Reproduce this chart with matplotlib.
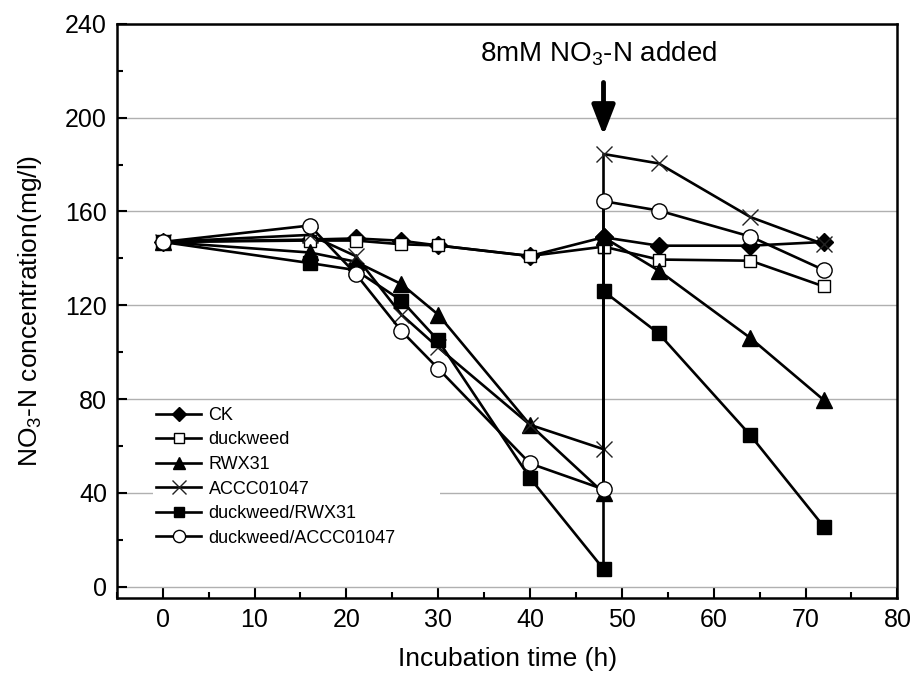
import matplotlib
matplotlib.use("Agg")
import matplotlib.pyplot as plt
from matplotlib.ticker import MultipleLocator

plt.rcParams["font.family"] = ["Liberation Sans", "DejaVu Sans"]
plt.rcParams["mathtext.fontset"] = "custom"
plt.rcParams["mathtext.rm"] = "Liberation Sans"
plt.rcParams["mathtext.default"] = "regular"

# ── data ─────────────────────────────────────────────────────────────────────
time_h = [0, 16, 21, 26, 30, 40, 48, 48, 54, 64, 72]

ck        = [147, 148, 148.5, 147.5, 145.5, 141, 149, 149, 145.4, 145.4, 147]
duckweed  = [147, 147.6, 147.6, 146, 145.5, 141, 145, 145, 139.5, 139, 128]
rwx31     = [147, 142.5, 138.6, 129, 116, 69, 40, 149, 134.8, 106, 79.5]
accc01047 = [147, 150, 141, 116, 102, 69, 58.6, 184.5, 180.5, 157.6, 146]
dw_rwx31  = [147, 138, 135, 122, 105, 46.3, 7.5, 126, 108, 64.5, 25.5]
dw_accc   = [147, 154, 133.5, 109, 93, 52.5, 41.5, 164.4, 160.4, 149.3, 135]

labels = ["CK", "duckweed", "RWX31", "ACCC01047", "duckweed/RWX31", "duckweed/ACCC01047"]
series = [ck, duckweed, rwx31, accc01047, dw_rwx31, dw_accc]

# ── plot ─────────────────────────────────────────────────────────────────────
fig = plt.figure(figsize=(9.12, 6.83), dpi=100)
ax = fig.add_axes([0.128, 0.124, 0.856, 0.841])

styles = [
    dict(marker="D", ms=9, mfc="black", mec="black"),
    dict(marker="s", ms=9, mfc="white", mec="black", mew=1.0),
    dict(marker="^", ms=11, mfc="black", mec="black"),
    dict(marker="x", ms=12, mfc="none", mec="#222222", mew=1.0),
    dict(marker="s", ms=9.5, mfc="black", mec="black"),
    dict(marker="o", ms=11, mfc="white", mec="black", mew=1.0),
]
for vals, lab, st in zip(series, labels, styles):
    ax.plot(time_h, vals, color="black", lw=1.9, label=lab, **st)

ax.set_xlim(-5, 80)
ax.set_ylim(-5, 240)
ax.xaxis.set_major_locator(MultipleLocator(10))
ax.xaxis.set_minor_locator(MultipleLocator(5))
ax.yaxis.set_major_locator(MultipleLocator(40))
ax.yaxis.set_minor_locator(MultipleLocator(20))
ax.tick_params(which="both", direction="in", top=False, right=False, width=1.5)
ax.tick_params(which="major", length=7, labelsize=18, pad=7)
ax.tick_params(which="minor", length=4)
for sp in ax.spines.values():
    sp.set_linewidth(1.8)

ax.grid(axis="y", color="#b0b0b0", lw=1.0)
ax.set_axisbelow(True)

ax.set_xlabel("Incubation time (h)", fontsize=19, labelpad=11)
ax.set_ylabel("NO$_3$-N concentration(mg/l)", fontsize=19, labelpad=15)

ax.annotate("", xy=(48, 192.5), xytext=(48, 215),
            arrowprops=dict(arrowstyle="-|>,head_length=0.9,head_width=0.35",
                            lw=3.5, color="black", mutation_scale=20,
                            shrinkA=0, shrinkB=0))
ax.text(47.5, 224, "8mM NO$_3$-N added", fontsize=20, ha="center", va="baseline")

leg = ax.legend(loc="upper left", bbox_to_anchor=(0.047, 0.0, 0.367, 0.338),
                mode="expand", fontsize=13, frameon=True, fancybox=False,
                edgecolor="none", facecolor="white", framealpha=1,
                borderpad=0.15, borderaxespad=0, labelspacing=0.42,
                handlelength=2.5, handletextpad=0.4, markerscale=0.8)

plt.savefig("out.png", dpi=100)
